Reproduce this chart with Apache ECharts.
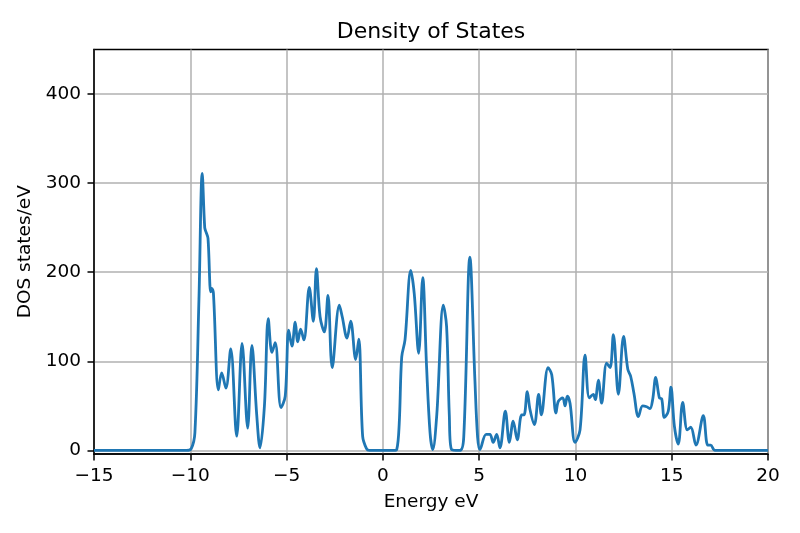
<!DOCTYPE html>
<html>
<head>
<meta charset="utf-8">
<script src="https://cdn.jsdelivr.net/npm/echarts@6/dist/echarts.min.js"></script>
<style>
  html, body { margin: 0; padding: 0; background: #fff; }
  #chart { width: 800px; height: 533px; }
</style>
</head>
<body>
<div id="chart"></div>
<script>
// energia (eV) y DOS
const energy = [
  -15, -10.2, -9.95, -9.76, -9.55, -9.38, -9.25, -9.18, -9.08, -8.94, -8.88, -8.8,
  -8.54, -8.37, -8.15, -7.9, -7.59, -7.31, -7.02, -6.8, -6.55, -6.38, -6.15, -5.95,
  -5.76, -5.59, -5.29, -5.07, -4.89, -4.72, -4.55, -4.42, -4.27, -4.1, -3.82, -3.61,
  -3.45, -3.26, -3.04, -2.85, -2.63, -2.26, -2.11, -1.86, -1.67, -1.41, -1.25, -1.05,
  -0.85, -0.7, 0.55, 0.72, 0.85, 0.98, 1.15, 1.45, 1.63, 1.86, 2.07, 2.27, 2.45, 2.59,
  2.8, 3.14, 3.31, 3.45, 3.57, 4.0, 4.2, 4.52, 4.78, 4.92, 5.04, 5.36, 5.56, 5.73,
  5.91, 6.08, 6.36, 6.57, 6.77, 6.98, 7.21, 7.33, 7.5, 7.64, 7.87, 8.09, 8.23, 8.58,
  8.77, 8.99, 9.11, 9.34, 9.46, 9.58, 9.72, 9.98, 10.24, 10.5, 10.72, 10.93, 11.03, 11.19,
  11.36, 11.62, 11.8, 11.97, 12.23, 12.5, 12.72, 12.87, 13.04, 13.27, 13.49, 13.7, 13.87, 14.01,
  14.17, 14.36, 14.48, 14.62, 14.82, 14.96, 15.14, 15.34, 15.57, 15.81, 15.99, 16.26, 16.64, 16.87,
  17.02, 17.25, 20
];
const dos = [
  0, 0, 2, 20, 170, 311, 250, 245, 238, 178, 182, 177,
  68, 87, 70, 114, 16, 120, 25, 118, 40, 3, 50, 148,
  110, 121, 48, 61, 135, 117, 144, 122, 136, 124, 183, 145,
  204, 150, 133, 174, 93, 163, 150, 126, 145, 102, 125, 16,
  2, 0, 0, 1, 30, 105, 124, 202, 176, 109, 194, 94, 20, 1,
  40, 163, 139, 40, 1, 0, 15, 217, 79, 15, 1, 18, 18, 9,
  18, 3, 44, 9, 33, 12, 40, 40, 66, 46, 29, 63, 40, 93,
  85, 42, 55, 59, 50, 61, 53, 9, 23, 107, 59, 63, 57, 79,
  53, 98, 93, 130, 63, 128, 91, 83, 64, 38, 50, 49, 47, 57,
  82, 59, 58, 37, 44, 71, 27, 7, 54, 23, 26, 6, 39, 6,
  6, 0, 0
];
const xTicks = [-15, -10, -5, 0, 5, 10, 15, 20];
const yTicks = [0, 100, 200, 300, 400];

const font = 'DejaVu Sans';
const chart = echarts.init(document.getElementById('chart'));

chart.setOption({
  animation: false,
  title: {
    text: 'Density of States',
    left: 426,
    textAlign: 'center',
    top: 16,
    textStyle: { fontFamily: font, fontSize: 22, fontWeight: 'normal', color: '#000' }
  },
  grid: {
    left: 94, right: 32, top: 49.5, bottom: 79,
    show: true, borderColor: '#000', borderWidth: 1.5
  },
  xAxis: {
    type: 'value',
    min: -15, max: 20, interval: 5,
    name: 'Energy eV', nameLocation: 'middle', nameGap: 39,
    nameTextStyle: { fontFamily: font, fontSize: 18.5, color: '#000' },
    axisLine: { show: true, onZero: false, lineStyle: { color: '#000', width: 1.5 } },
    axisTick: { show: true, length: 6.5, lineStyle: { color: '#000', width: 1.5 }, customValues: xTicks },
    axisLabel: { fontFamily: font, fontSize: 18.5, color: '#000', margin: 13,
      customValues: xTicks, formatter: v => String(v).replace('-', '\u2212') },
    splitLine: { show: true, lineStyle: { color: '#b0b0b0', width: 1.5 } }
  },
  yAxis: {
    type: 'value',
    min: -4, max: 450,
    name: 'DOS states/eV', nameLocation: 'middle', nameGap: 54,
    nameTextStyle: { fontFamily: font, fontSize: 18.5, color: '#000' },
    axisLine: { show: true, onZero: false, lineStyle: { color: '#000', width: 1.5 } },
    axisTick: { show: true, length: 6.5, lineStyle: { color: '#000', width: 1.5 }, customValues: yTicks },
    axisLabel: { fontFamily: font, fontSize: 18.5, color: '#000', margin: 13, customValues: yTicks },
    splitLine: { show: true, lineStyle: { color: '#b0b0b0', width: 1.5 } }
  },
  series: [{
    type: 'line',
    data: energy.map((e, i) => [e, dos[i]]),
    smooth: 0.35,
    showSymbol: false,
    lineStyle: { color: '#1f77b4', width: 2.8 }
  }]
});
</script>
</body>
</html>
